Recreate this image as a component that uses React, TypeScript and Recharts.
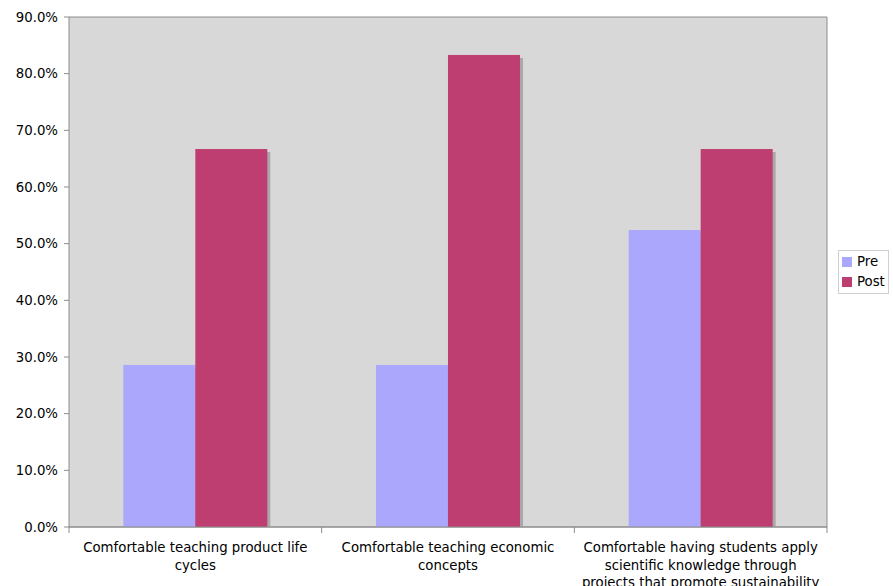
import React from 'react';
import { Bar, BarChart, CartesianGrid, Legend, XAxis, YAxis } from 'recharts';

const categories = [
  'Comfortable teaching product life cycles',
  'Comfortable teaching economic concepts',
  'Comfortable having students apply scientific knowledge through projects that promote sustainability',
];
// how the category labels break into lines under the axis
const categoryLines = [
  ['Comfortable teaching product life', 'cycles'],
  ['Comfortable teaching economic', 'concepts'],
  ['Comfortable having students apply', 'scientific knowledge through', 'projects that promote sustainability'],
];
const preValues = [28.6, 28.6, 52.4];
const postValues = [66.7, 83.3, 66.7];
const yTicks = [0, 10, 20, 30, 40, 50, 60, 70, 80, 90];

const PRE_COLOR = '#aaa7fd';
const POST_COLOR = '#bf3e71';
const FONT = '"DejaVu Sans", Verdana, sans-serif';

const data = categories.map((name, i) => ({ name, pre: preValues[i], post: postValues[i] }));

const ShadowBar = (props: any) => {
  const { x, y, width, height, fill } = props;
  if (!height || height <= 0) return null;
  return (
    <g>
      <rect x={x + 3} y={y + 3} width={width} height={height - 3} fill="#a9a9a9" />
      <rect x={x} y={y} width={width} height={height} fill={fill} />
    </g>
  );
};

const CategoryTick = (props: any) => {
  const { x, y, payload, index, visibleTicksCount } = props;
  const half = payload.offset || 0;
  const lines = categoryLines[index] || [payload.value];
  return (
    <g>
      <line x1={x - half} y1={y - 8} x2={x - half} y2={y - 2} stroke="#8c8c8c" />
      {index === visibleTicksCount - 1 && (
        <line x1={x + half} y1={y - 8} x2={x + half} y2={y - 2} stroke="#8c8c8c" />
      )}
      <text x={x} y={y + 17} textAnchor="middle" fontSize={13.3} fontFamily={FONT} fill="#000">
        {lines.map((line: string, i: number) => (
          <tspan key={i} x={x} dy={i === 0 ? 0 : 17.5}>
            {line}
          </tspan>
        ))}
      </text>
    </g>
  );
};

const LegendBox = () => (
  <div
    style={{
      display: 'inline-block',
      border: '1px solid #d0d0d0',
      background: '#fff',
      padding: '1px 3px 1px 3px',
      fontFamily: FONT,
      fontSize: 13.3,
      lineHeight: '20px',
      textAlign: 'left',
    }}
  >
    {[
      { label: 'Pre', color: PRE_COLOR },
      { label: 'Post', color: POST_COLOR },
    ].map((item) => (
      <div key={item.label} style={{ display: 'flex', alignItems: 'center' }}>
        <span style={{ width: 10, height: 10, background: item.color, display: 'inline-block', marginRight: 5 }} />
        <span>{item.label}</span>
      </div>
    ))}
  </div>
);

const App = () => {
  return (
    <div style={{ position: 'absolute', left: 0, top: 0, background: '#fff' }}>
      <BarChart
        width={893}
        height={586}
        data={data}
        margin={{ top: 17, right: 0, left: 0, bottom: 0 }}
        barCategoryGap="21.5%"
        barGap={0}
      >
        <CartesianGrid vertical={false} fill="#d8d8d8" stroke="#8c8c8c" fillOpacity={1} />
        <XAxis
          dataKey="name"
          interval={0}
          height={59}
          axisLine={{ stroke: '#8c8c8c' }}
          tickLine={false}
          tick={<CategoryTick />}
        />
        <YAxis
          yAxisId="left"
          domain={[0, 90]}
          ticks={yTicks}
          width={69}
          tickFormatter={(v: number) => `${v.toFixed(1)}%`}
          tick={{ fontSize: 13.3, fontFamily: FONT, fill: '#000' }}
          axisLine={{ stroke: '#8c8c8c' }}
          tickLine={{ stroke: '#8c8c8c' }}
          tickSize={5}
          tickMargin={6}
        />
        <YAxis
          yAxisId="right"
          orientation="right"
          domain={[0, 90]}
          width={66}
          tick={false}
          tickLine={false}
          axisLine={{ stroke: '#8c8c8c' }}
        />
        <Legend
          layout="horizontal"
          verticalAlign="middle"
          content={<LegendBox />}
          wrapperStyle={{ position: 'absolute', left: 838, top: 250, width: 'auto' }}
        />
        <Bar yAxisId="left" dataKey="pre" name="Pre" fill={PRE_COLOR} shape={<ShadowBar />} isAnimationActive={false} />
        <Bar yAxisId="left" dataKey="post" name="Post" fill={POST_COLOR} shape={<ShadowBar />} isAnimationActive={false} />
      </BarChart>
    </div>
  );
};

export default App;
